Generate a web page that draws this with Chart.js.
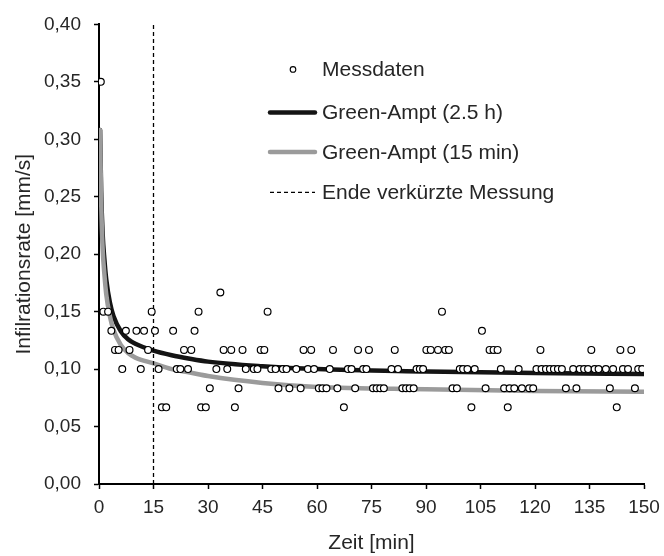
<!DOCTYPE html>
<html>
<head>
<meta charset="utf-8">
<script src="https://cdn.jsdelivr.net/npm/chart.js@4.4.0/dist/chart.umd.min.js"></script>
<style>
html,body{margin:0;padding:0;background:#ffffff;}
#wrap{width:664px;height:556px;}
</style>
</head>
<body>
<div id="wrap"><canvas id="c" width="664" height="556"></canvas></div>
<script>
// ---- Data ----
const seriesLabels = ['Messdaten', 'Green-Ampt (2.5 h)', 'Green-Ampt (15 min)', 'Ende verkürzte Messung'];

// Measured infiltration rate [mm/s] vs time [min]
const measTime = [
  0.5,
  1.2, 2.5, 14.5, 27.4, 46.4, 94.4,
  33.4,
  3.4, 7.4, 10.3, 12.4, 15.4, 20.4, 26.3, 105.4,
  4.4, 5.4, 8.4, 13.5, 23.4, 25.4, 34.3, 36.4, 39.5, 44.5, 45.5, 56.3, 58.4, 64.4, 71.3, 74.3, 81.4,
  90.1, 91.3, 93.3, 95.3, 96.3, 107.5, 108.6, 109.7, 121.5, 135.5, 143.5, 146.5,
  6.4, 11.5, 16.4, 21.4, 22.4, 24.5, 32.3, 35.3, 40.4, 42.6, 43.6, 47.4, 48.6, 50.6, 51.6, 54.3, 57.5, 59.2,
  63.5, 68.5, 69.5, 72.7, 73.6, 80.5, 82.3, 87.4, 88.3, 89.2, 99.3, 100.2, 101.4, 103.4, 110.6, 115.5,
  120.4, 121.8, 123.0, 124.1, 125.2, 126.3, 127.4, 130.5, 132.3, 133.5, 134.6, 136.4, 137.5, 139.5,
  141.5, 144.2, 145.6, 148.4, 149.5,
  30.5, 38.4, 49.4, 52.4, 55.5, 60.5, 61.5, 62.6, 65.6, 70.5, 75.4, 76.4, 77.4, 78.4, 83.5, 84.5, 85.5,
  86.6, 97.3, 98.5, 106.4, 111.5, 113.0, 114.3, 116.4, 118.4, 119.5, 128.5, 131.4, 140.6, 147.5,
  17.3, 18.5, 28.1, 29.4, 37.4, 67.4, 102.5, 112.5, 142.5
];
const measRate = [
  0.35,
  0.15, 0.15, 0.15, 0.15, 0.15, 0.15,
  0.1667,
  0.1333, 0.1333, 0.1333, 0.1333, 0.1333, 0.1333, 0.1333, 0.1333,
  0.1167, 0.1167, 0.1167, 0.1167, 0.1167, 0.1167, 0.1167, 0.1167, 0.1167, 0.1167, 0.1167, 0.1167, 0.1167, 0.1167, 0.1167, 0.1167, 0.1167,
  0.1167, 0.1167, 0.1167, 0.1167, 0.1167, 0.1167, 0.1167, 0.1167, 0.1167, 0.1167, 0.1167, 0.1167,
  0.1, 0.1, 0.1, 0.1, 0.1, 0.1, 0.1, 0.1, 0.1, 0.1, 0.1, 0.1, 0.1, 0.1, 0.1, 0.1, 0.1, 0.1,
  0.1, 0.1, 0.1, 0.1, 0.1, 0.1, 0.1, 0.1, 0.1, 0.1, 0.1, 0.1, 0.1, 0.1, 0.1, 0.1,
  0.1, 0.1, 0.1, 0.1, 0.1, 0.1, 0.1, 0.1, 0.1, 0.1, 0.1, 0.1, 0.1, 0.1,
  0.1, 0.1, 0.1, 0.1, 0.1,
  0.0833, 0.0833, 0.0833, 0.0833, 0.0833, 0.0833, 0.0833, 0.0833, 0.0833, 0.0833, 0.0833, 0.0833, 0.0833, 0.0833, 0.0833, 0.0833, 0.0833,
  0.0833, 0.0833, 0.0833, 0.0833, 0.0833, 0.0833, 0.0833, 0.0833, 0.0833, 0.0833, 0.0833, 0.0833, 0.0833, 0.0833,
  0.0667, 0.0667, 0.0667, 0.0667, 0.0667, 0.0667, 0.0667, 0.0667, 0.0667
];

// Green-Ampt model curves
const curveTime  = [0.3, 0.6, 1, 1.5, 2, 3, 4, 6, 8, 10, 15, 20, 25, 30, 45, 60, 90, 120, 150];
const curveLong  = [0.308, 0.255, 0.218, 0.195, 0.178, 0.158, 0.146, 0.133, 0.126, 0.122, 0.116, 0.112, 0.109, 0.1065, 0.1025, 0.100, 0.098, 0.0965, 0.0957];
const curveShort = [0.308, 0.245, 0.205, 0.182, 0.165, 0.146, 0.134, 0.121, 0.114, 0.110, 0.105, 0.100, 0.097, 0.094, 0.088, 0.0845, 0.0825, 0.081, 0.0803];

// End of shortened measurement
const endTime = [15, 15];
const endRate = [0, 0.4];

// Axis ticks
const xTicks = [0, 15, 30, 45, 60, 75, 90, 105, 120, 135, 150];
const yTicks = [0, 0.05, 0.10, 0.15, 0.20, 0.25, 0.30, 0.35, 0.40];

// ---- Build chart ----
const pts = (xs, ys) => xs.map((x, i) => ({x: x, y: ys[i]}));
const FONT = '"Liberation Sans", Arial, Helvetica, sans-serif';
const TXT = '#262626';

const legendPlugin = {
  id: 'inlineLegend',
  afterDraw(chart) {
    const ctx = chart.ctx;
    const ca = chart.chartArea;
    const ds = chart.data.datasets;
    const x0 = ca.left + 169, x1 = ca.left + 218, tx = ca.left + 223;
    const rows = [ca.top + 45, ca.top + 88, ca.top + 127.5, ca.top + 168];
    ctx.save();
    // Messdaten marker
    ctx.beginPath();
    ctx.arc((x0 + x1) / 2 + 0.5, rows[0], 2.8, 0, Math.PI * 2);
    ctx.fillStyle = '#fff';
    ctx.fill();
    ctx.lineWidth = 1.1;
    ctx.strokeStyle = '#000';
    ctx.stroke();
    // line samples
    [[1, rows[1]], [2, rows[2]]].forEach(([i, y]) => {
      ctx.beginPath();
      ctx.lineCap = 'round';
      ctx.lineWidth = ds[i].borderWidth;
      ctx.strokeStyle = ds[i].borderColor;
      ctx.moveTo(x0 + 2, y);
      ctx.lineTo(x1 - 2, y);
      ctx.stroke();
    });
    ctx.beginPath();
    ctx.lineCap = 'butt';
    ctx.setLineDash(ds[3].borderDash);
    ctx.lineWidth = ds[3].borderWidth;
    ctx.strokeStyle = ds[3].borderColor;
    ctx.moveTo(x0 + 2, rows[3]);
    ctx.lineTo(x1 - 2, rows[3]);
    ctx.stroke();
    ctx.setLineDash([]);
    // labels
    ctx.font = '21px ' + FONT;
    ctx.fillStyle = TXT;
    ctx.textBaseline = 'middle';
    ctx.textAlign = 'left';
    for (let i = 0; i < 4; i++) ctx.fillText(ds[i].label, tx, rows[i] + 1);
    ctx.restore();
  }
};

new Chart(document.getElementById('c'), {
  type: 'scatter',
  data: {
    datasets: [
      {
        label: seriesLabels[0],
        data: pts(measTime, measRate),
        showLine: false,
        pointRadius: 3.4,
        pointBorderWidth: 1.2,
        pointBackgroundColor: '#ffffff',
        pointBorderColor: '#000000',
        order: 0
      },
      {
        label: seriesLabels[1],
        data: pts(curveTime, curveLong),
        showLine: true,
        pointRadius: 0,
        borderColor: '#141414',
        borderWidth: 4.5,
        borderCapStyle: 'round',
        cubicInterpolationMode: 'monotone',
        order: 3
      },
      {
        label: seriesLabels[2],
        data: pts(curveTime, curveShort),
        showLine: true,
        pointRadius: 0,
        borderColor: '#9b9b9b',
        borderWidth: 4.5,
        borderCapStyle: 'round',
        cubicInterpolationMode: 'monotone',
        order: 2
      },
      {
        label: seriesLabels[3],
        data: pts(endTime, endRate),
        showLine: true,
        pointRadius: 0,
        borderColor: '#000000',
        borderWidth: 1.3,
        borderDash: [4, 3],
        order: 1
      }
    ]
  },
  options: {
    responsive: false,
    devicePixelRatio: 1,
    animation: false,
    layout: { padding: { top: 22, right: 20, bottom: 0, left: 0 } },
    plugins: { legend: { display: false }, tooltip: { enabled: false } },
    scales: {
      x: {
        type: 'linear', min: xTicks[0], max: xTicks[xTicks.length - 1],
        afterBuildTicks: s => { s.ticks = xTicks.map(v => ({value: v})); },
        afterFit: s => { s.height = 72; s.paddingLeft = 0; s.paddingRight = 0; },
        ticks: { color: TXT, font: { family: FONT, size: 19 }, padding: 7, maxRotation: 0 },
        grid: { drawOnChartArea: false, drawTicks: true, tickLength: 5, tickColor: '#000', tickWidth: 1.5 },
        border: { display: true, color: '#000', width: 2 },
        title: { display: true, text: 'Zeit [min]', color: TXT, font: { family: FONT, size: 21 }, padding: { top: 0, bottom: 0 } }
      },
      y: {
        type: 'linear', min: yTicks[0], max: yTicks[yTicks.length - 1],
        afterBuildTicks: s => { s.ticks = yTicks.map(v => ({value: v})); },
        afterFit: s => { s.width = 99; },
        ticks: { color: TXT, font: { family: FONT, size: 19 }, padding: 13,
                 callback: v => Number(v).toFixed(2).replace('.', ',') },
        grid: { drawOnChartArea: false, drawTicks: true, tickLength: 5, tickColor: '#000', tickWidth: 1.5 },
        border: { display: true, color: '#000', width: 2 },
        title: { display: true, text: 'Infilrationsrate [mm/s]', color: TXT, font: { family: FONT, size: 21 }, padding: { top: 12, bottom: 4 } }
      }
    }
  },
  plugins: [legendPlugin]
});
</script>
</body>
</html>
